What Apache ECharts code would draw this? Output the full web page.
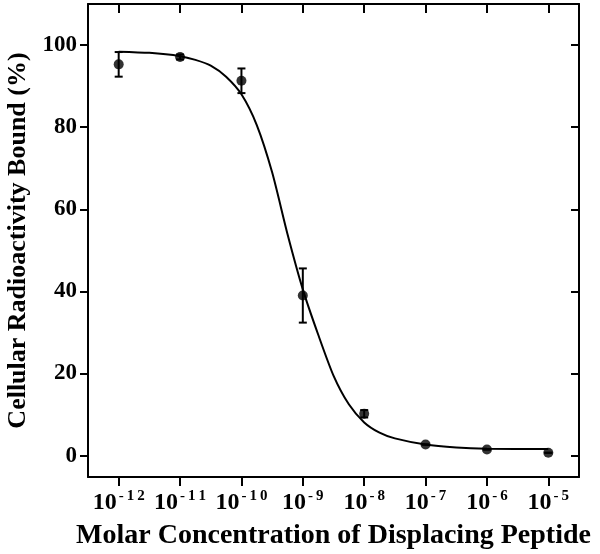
<!DOCTYPE html>
<html>
<head>
<meta charset="UTF-8">
<title>Displacement curve</title>
<script src="https://cdn.jsdelivr.net/npm/echarts@6/dist/echarts.min.js"></script>
<style>
  html, body { margin: 0; padding: 0; background: #fff; }
  #chart { width: 600px; height: 554px; }
</style>
</head>
<body>
<div id="chart"></div>
<script>
  // log10 of molar concentration for each measured point
  const pointExp = [-12, -11, -10, -9, -8, -7, -6, -5];
  const pointMean = [95.3, 97.1, 91.3, 39.0, 10.2, 2.7, 1.5, 0.7];
  const pointErr = [3.0, 0.6, 3.0, 6.6, 0.9, 0, 0, 0];

  // fitted curve
  const curveExp = [-12, -11.5, -11, -10.75, -10.5, -10.25, -10, -9.75, -9.5, -9.25, -9.0, -8.75, -8.5, -8.25, -8, -7.75, -7.5, -7.0, -6.5, -6, -5];
  const curveVal = [98.4, 98.1, 97.3, 96.4, 95.0, 92.3, 88.0, 80.5, 69.0, 54.0, 40.5, 29.5, 19.5, 12.5, 8.1, 5.6, 4.2, 2.7, 2.0, 1.7, 1.6];

  const xTicks = [-12, -11, -10, -9, -8, -7, -6, -5];
  const yTicks = [0, 20, 40, 60, 80, 100];

  const serif = '"Liberation Serif", "DejaVu Serif", serif';

  const chart = echarts.init(document.getElementById('chart'));

  const pointData = pointExp.map((e, i) => [e, pointMean[i]]);
  const errData = pointExp.map((e, i) => [e, pointMean[i] - pointErr[i], pointMean[i] + pointErr[i]]);
  const curveData = curveExp.map((e, i) => [e, curveVal[i]]);

  const frameLine = { show: true, onZero: false, lineStyle: { color: '#000', width: 2 } };

  chart.setOption({
    animation: false,
    backgroundColor: '#fff',
    grid: { left: 88, right: 21, top: 4, bottom: 77, containLabel: false, outerBoundsMode: 'none' },
    xAxis: [
      {
        type: 'value', min: -12.5, max: -4.5,
        axisLine: frameLine,
        axisTick: { show: true, inside: false, length: 9, lineStyle: { color: '#000', width: 2 }, customValues: xTicks },
        splitLine: { show: false },
        axisLabel: {
          customValues: xTicks, margin: 12,
          formatter: v => '{b|10}{s|' + String(v).split('').join('\u2009') + '}',
          rich: {
            b: { fontFamily: serif, fontWeight: 'bold', fontSize: 24, color: '#000', lineHeight: 26, verticalAlign: 'bottom' },
            s: { fontFamily: serif, fontWeight: 'bold', fontSize: 15, color: '#000', lineHeight: 26, verticalAlign: 'top', padding: [0, 0, 0, 2] }
          }
        },
        name: 'Molar Concentration of Displacing Peptide',
        nameLocation: 'middle', nameGap: 45,
        nameTextStyle: { fontFamily: serif, fontWeight: 'bold', fontSize: 28, color: '#000' }
      },
      {
        type: 'value', position: 'top', min: -12.5, max: -4.5,
        axisLine: frameLine,
        axisTick: { show: true, inside: true, length: 9, lineStyle: { color: '#000', width: 2 }, customValues: xTicks },
        axisLabel: { show: false },
        splitLine: { show: false }
      }
    ],
    yAxis: [
      {
        type: 'value', min: -5.2, max: 110,
        axisLine: frameLine,
        axisTick: { show: true, inside: false, length: 8, lineStyle: { color: '#000', width: 2 }, customValues: yTicks },
        splitLine: { show: false },
        axisLabel: {
          customValues: yTicks, margin: 11,
          fontFamily: serif, fontWeight: 'bold', fontSize: 23, color: '#000'
        },
        name: 'Cellular Radioactivity Bound (%)',
        nameLocation: 'middle', nameGap: 52,
        nameTextStyle: { fontFamily: serif, fontWeight: 'bold', fontSize: 26, color: '#000' }
      },
      {
        type: 'value', position: 'right', min: -5.2, max: 110,
        axisLine: frameLine,
        axisTick: { show: true, inside: true, length: 8, lineStyle: { color: '#000', width: 2 }, customValues: yTicks },
        axisLabel: { show: false },
        splitLine: { show: false }
      }
    ],
    series: [
      {
        name: 'fit', type: 'line', data: curveData, smooth: 0.25,
        showSymbol: false, lineStyle: { color: '#000', width: 2 }, z: 2
      },
      {
        name: 'error', type: 'custom', data: errData, z: 3,
        renderItem: function (params, api) {
          const x = api.coord([api.value(0), api.value(1)])[0];
          const yLo = api.coord([api.value(0), api.value(1)])[1];
          const yHi = api.coord([api.value(0), api.value(2)])[1];
          const cap = 4;
          const st = { stroke: '#000', lineWidth: 2 };
          return {
            type: 'group',
            children: [
              { type: 'line', shape: { x1: x, y1: yHi, x2: x, y2: yLo }, style: st },
              { type: 'line', shape: { x1: x - cap, y1: yHi, x2: x + cap, y2: yHi }, style: st },
              { type: 'line', shape: { x1: x - cap, y1: yLo, x2: x + cap, y2: yLo }, style: st }
            ]
          };
        }
      },
      {
        name: 'mean', type: 'scatter', data: pointData, symbol: 'circle', symbolSize: 10,
        itemStyle: { color: '#000' }, z: 4
      }
    ]
  });
</script>
</body>
</html>
